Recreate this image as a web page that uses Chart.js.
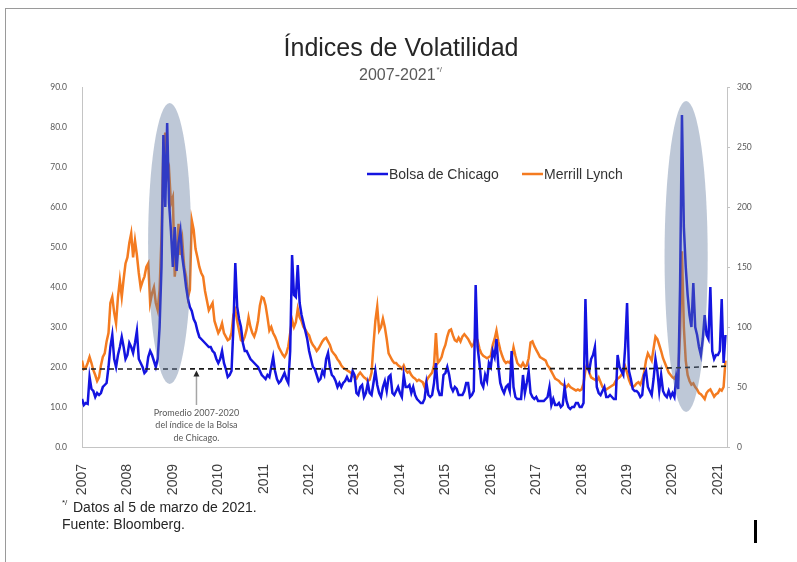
<!DOCTYPE html>
<html lang="es">
<head>
    <meta charset="UTF-8">
    <title>Índices de Volatilidad</title>
    <script src="https://cdn.jsdelivr.net/npm/chart.js"></script>
    <style>
        html, body {
            margin: 0;
            padding: 0;
            background: #fff;
        }
        .frame {
            position: relative;
            width: 797px;
            height: 562px;
            overflow: hidden;
        }
        .frame::before {
            content: "";
            position: absolute;
            left: 5px;
            top: 8px;
            right: -2px;
            bottom: -2px;
            border-top: 1px solid #9a9a9a;
            border-left: 1px solid #9a9a9a;
        }
        canvas {
            position: absolute;
            left: 0;
            top: 0;
        }
    </style>
</head>
<body>
    <div class="frame">
        <canvas id="volChart" width="797" height="562"></canvas>
    </div>

    <script>
        // Two readings per month (1st and 16th), Jan 2007 - Mar 2021
        const startYear = 2007;
        const pointsPerYear = 24;

        // Bolsa de Chicago (VIX), left axis
        const vixChicago = [
            12, 10.5, 11, 10.8, 17.5, 14.5, 14, 12.5, 13.5, 13, 13.5, 15, 15.5, 16, 20, 25, 28, 22, 20, 23, 25, 27.5, 25, 22,
            23, 26, 25, 23.5, 26, 29, 22, 21, 20, 18.5, 19, 22.5, 24, 23, 21.5, 20, 22, 30, 45, 78, 60, 81, 61, 54,
            45, 55, 44, 51, 54, 47.5, 44, 40, 37, 35, 34, 32, 31, 29, 27.5, 27, 26.5, 26, 25.5, 25, 25, 24, 23.5, 22,
            21, 22, 24, 21, 19.5, 17.5, 18, 19, 30, 46, 35, 32, 30, 26, 24, 24, 23, 22, 21.5, 21, 20.5, 20, 19, 18,
            17.5, 17, 18, 17.5, 20, 22.5, 19, 17, 16, 16.5, 17.5, 18.5, 17, 16, 24, 48, 38, 37.5, 45.5, 36, 33, 31, 29, 27,
            24, 22, 20, 19.5, 18, 16.5, 17, 19, 18, 22, 23.5, 20, 18, 17.5, 16.5, 15, 16, 15, 16, 16.5, 17.5, 16.5, 16.5, 19,
            18, 13.5, 13, 15, 15.5, 12.5, 13.5, 16, 13.5, 13, 16, 19, 15.5, 13.5, 12.5, 15, 16.5, 14, 17.5, 18, 13.5, 13, 14, 15,
            13.5, 12.5, 18, 15, 15, 15.5, 13.5, 15, 13, 12, 11.5, 11, 11, 12, 16, 13, 12.5, 13, 16, 21, 14.5, 13, 13, 18,
            18.5, 20, 18, 15, 14, 15, 14.5, 13, 13, 13, 14, 16, 16, 12.5, 13, 14, 40.5, 25, 21, 16, 15, 18, 16.5, 21,
            20, 24, 22.5, 27, 20, 16, 14.5, 13.5, 15, 15.5, 14, 24, 15, 12.5, 12, 12, 12, 18, 13.5, 16, 19, 13.5, 12.5, 12,
            12.5, 11.5, 11.5, 11.5, 11.5, 12, 12.5, 15, 10.5, 12, 10.5, 10.5, 11, 10, 10.5, 15, 11.5, 10, 9.5, 10, 10, 11, 11, 10,
            10, 11, 37, 20, 19, 22, 23, 25, 15, 13.5, 13, 14, 15, 12.5, 12.5, 13, 12.5, 12, 12, 23, 20, 19, 18, 25,
            36, 19, 17, 14.5, 14, 14, 13.5, 12.5, 13, 18, 19, 15, 14, 13, 17, 22, 19, 14, 18, 14, 13, 12.5, 14, 12.5,
            13.5, 12.5, 17.5, 14.5, 40, 83, 55, 45, 38, 33, 30, 41, 30, 28, 25, 23, 27, 33, 28, 27, 40, 24, 22, 23,
            23, 24, 37, 21, 28
        ];

        // Merrill Lynch (MOVE), right axis
        const merrillLynch = [
            72, 65, 66, 70, 75, 70, 64, 60, 55, 58, 68, 75, 78, 88, 95, 120, 125, 112, 103, 125, 139, 125, 140, 153,
            158, 170, 178, 158, 172, 160, 145, 133, 138, 142, 150, 153, 120, 128, 133, 120, 114, 131, 175, 250, 262, 225, 231, 203,
            208, 142, 158, 186, 160, 172, 150, 142, 125, 131, 189, 181, 165, 158, 150, 145, 142, 130, 122, 114, 117, 120, 105, 100,
            95, 98, 103, 95, 92, 89, 90, 95, 110, 114, 105, 97, 89, 88, 92, 98, 108, 100, 95, 92, 97, 105, 118, 125,
            124, 118, 108, 97, 100, 95, 92, 88, 83, 80, 77, 75, 78, 84, 95, 106, 100, 104, 115, 108, 105, 100, 98, 95,
            93, 88, 85, 83, 80, 82, 85, 88, 90, 91, 88, 85, 80, 78, 76, 73, 71, 68, 66, 65, 64, 63, 62, 60,
            58, 57, 60, 62, 60, 58, 57, 55, 56, 62, 85, 105, 117, 97, 100, 107, 100, 90, 78, 75, 72, 70, 70, 68,
            67, 65, 68, 64, 62, 63, 60, 58, 57, 55, 56, 55, 54, 50, 55, 58, 60, 62, 68, 95, 70, 72, 75, 81,
            85, 92, 97, 98, 93, 89, 88, 91, 88, 92, 94, 92, 90, 87, 84, 86, 92, 89, 82, 78, 76, 75, 74, 75,
            76, 85, 90, 97, 88, 81, 76, 72, 70, 71, 70, 74, 83, 76, 70, 68, 67, 70, 67, 68, 74, 87, 88, 84,
            81, 78, 75, 74, 73, 72, 68, 66, 63, 60, 57, 56, 55, 53, 52, 51, 50, 52, 50, 49, 48, 47, 48, 47,
            48, 53, 64, 70, 62, 58, 57, 56, 55, 58, 54, 50, 49, 48, 49, 50, 51, 52, 55, 57, 58, 60, 63, 67,
            62, 56, 52, 50, 51, 53, 54, 52, 56, 62, 72, 78, 75, 72, 82, 92, 90, 85, 80, 74, 70, 66, 62, 60,
            58, 57, 60, 58, 95, 163, 100, 72, 60, 55, 52, 53, 50, 48, 45, 44, 42, 40, 45, 47, 48, 45, 42, 44,
            45, 48, 47, 50, 72
        ];

        // Promedio 2007-2020 del índice de la Bolsa de Chicago
        const averageYears = [2007, 2019.5, 2021.2];
        const averageVix = [19.5, 19.6, 20.2];

        const yearTicks = [2007, 2008, 2009, 2010, 2011, 2012, 2013, 2014, 2015, 2016, 2017, 2018, 2019, 2020, 2021];
        const leftTicks = [0, 10, 20, 30, 40, 50, 60, 70, 80, 90];
        const rightTicks = [0, 50, 100, 150, 200, 250, 300];

        // shaded ellipses (in axis units) around the two crises
        const highlights = [
            { from: 2008.455, to: 2009.405, low: 15.75, high: 86 },
            { from: 2019.825, to: 2020.775, low: 8.75, high: 86.5 }
        ];
        const noteYear = 2009.52;

        const sans = '"Liberation Sans", Arial, sans-serif';
        const soft = 'Lato, "Open Sans", sans-serif';

        function toPoints(values) {
            return values.map((v, i) => ({ x: startYear + i / pointsPerYear, y: v }));
        }

        const overlay = {
            id: "overlay",
            afterDatasetsDraw(chart) {
                const { ctx, scales: { x, y } } = chart;
                ctx.save();
                ctx.fillStyle = "rgba(92, 117, 155, 0.4)";
                highlights.forEach(h => {
                    const x0 = x.getPixelForValue(h.from);
                    const x1 = x.getPixelForValue(h.to);
                    const y0 = y.getPixelForValue(h.high);
                    const y1 = y.getPixelForValue(h.low);
                    ctx.beginPath();
                    ctx.ellipse((x0 + x1) / 2, (y0 + y1) / 2, (x1 - x0) / 2, (y1 - y0) / 2, 0, 0, Math.PI * 2);
                    ctx.fill();
                });
                ctx.restore();
            },
            afterDraw(chart) {
                const { ctx, scales: { x, y } } = chart;
                const ds = chart.data.datasets;
                ctx.save();

                // title + subtitle
                ctx.textBaseline = "middle";
                ctx.textAlign = "center";
                ctx.fillStyle = "#262626";
                ctx.font = "25px " + sans;
                ctx.fillText("Índices de Volatilidad", 401, 49);

                ctx.fillStyle = "#595959";
                ctx.font = "16px " + sans;
                const sub = "2007-2021";
                const wSub = ctx.measureText(sub).width;
                ctx.font = "8px " + sans;
                const wSup = ctx.measureText("*/").width;
                const sx = 400 - (wSub + wSup) / 2;
                ctx.textAlign = "left";
                ctx.font = "16px " + sans;
                ctx.fillText(sub, sx, 76);
                ctx.font = "8px " + sans;
                ctx.fillText("*/", sx + wSub + 1, 70);

                // legend
                const legend = [
                    { ds: ds[0], x: 367 },
                    { ds: ds[1], x: 522 }
                ];
                ctx.font = "14px " + sans;
                legend.forEach(item => {
                    ctx.strokeStyle = item.ds.borderColor;
                    ctx.lineWidth = 2.5;
                    ctx.beginPath();
                    ctx.moveTo(item.x, 174);
                    ctx.lineTo(item.x + 21, 174);
                    ctx.stroke();
                    ctx.fillStyle = "#333";
                    ctx.fillText(item.ds.label, item.x + 22, 175);
                });

                // note with arrow
                const ax = x.getPixelForValue(noteYear);
                const tipY = y.getPixelForValue(19.1);
                const baseY = y.getPixelForValue(10.5);
                ctx.strokeStyle = "#a6a6a6";
                ctx.lineWidth = 1.5;
                ctx.beginPath();
                ctx.moveTo(ax, tipY + 5);
                ctx.lineTo(ax, baseY);
                ctx.stroke();
                ctx.fillStyle = "#262626";
                ctx.beginPath();
                ctx.moveTo(ax, tipY);
                ctx.lineTo(ax - 3, tipY + 6);
                ctx.lineTo(ax + 3, tipY + 6);
                ctx.closePath();
                ctx.fill();

                ctx.fillStyle = "#595959";
                ctx.font = "9px " + soft;
                ctx.textAlign = "center";
                ["Promedio 2007-2020", "del índice de la Bolsa", "de Chicago."].forEach((t, i) => {
                    ctx.fillText(t, ax, baseY + 8 + i * 12.5);
                });

                // footer
                ctx.textAlign = "left";
                ctx.fillStyle = "#262626";
                ctx.font = "8px " + sans;
                ctx.fillText("*/", 62, 503);
                ctx.font = "14px " + sans;
                ctx.fillText("Datos al 5 de marzo de 2021.", 73, 508);
                ctx.fillText("Fuente: Bloomberg.", 62, 525);

                ctx.fillStyle = "#000";
                ctx.fillRect(754, 520, 3, 23);

                ctx.restore();
            }
        };

        const config = {
            type: "line",
            data: {
                datasets: [
                    {
                        label: "Bolsa de Chicago",
                        data: toPoints(vixChicago),
                        yAxisID: "y",
                        borderColor: "#1414e0",
                        borderWidth: 2.5,
                        pointRadius: 0,
                        tension: 0,
                        order: 2
                    },
                    {
                        label: "Merrill Lynch",
                        data: toPoints(merrillLynch),
                        yAxisID: "y2",
                        borderColor: "#f47b20",
                        borderWidth: 2.5,
                        pointRadius: 0,
                        tension: 0,
                        order: 3
                    },
                    {
                        label: "Promedio",
                        data: averageYears.map((yr, i) => ({ x: yr, y: averageVix[i] })),
                        yAxisID: "y",
                        borderColor: "#1a1a1a",
                        borderWidth: 1.6,
                        borderDash: [5, 4],
                        pointRadius: 0,
                        tension: 0,
                        order: 1
                    }
                ]
            },
            options: {
                responsive: false,
                animation: false,
                layout: {
                    padding: { top: 87, bottom: 65, left: 0, right: 0 }
                },
                plugins: {
                    legend: { display: false },
                    tooltip: { enabled: false }
                },
                scales: {
                    x: {
                        type: "linear",
                        min: 2007,
                        max: 2021.2,
                        afterBuildTicks: scale => {
                            scale.ticks = yearTicks.map(v => ({ value: v }));
                        },
                        afterFit: scale => { scale.height = 50; },
                        grid: { display: false },
                        border: { display: true, color: "#c4c4c4" },
                        ticks: {
                            autoSkip: false,
                            minRotation: 90,
                            maxRotation: 90,
                            padding: 9,
                            color: "#404040",
                            font: { family: sans, size: 14 },
                            callback: v => String(v)
                        }
                    },
                    y: {
                        position: "left",
                        min: 0,
                        max: 90,
                        afterBuildTicks: scale => {
                            scale.ticks = leftTicks.map(v => ({ value: v }));
                        },
                        afterFit: scale => { scale.width = 82; },
                        grid: { display: false },
                        border: { display: true, color: "#c4c4c4" },
                        ticks: {
                            padding: 7,
                            color: "#595959",
                            font: { family: soft, size: 8.5 },
                            callback: v => v.toFixed(1)
                        }
                    },
                    y2: {
                        position: "right",
                        min: 0,
                        max: 300,
                        afterBuildTicks: scale => {
                            scale.ticks = rightTicks.map(v => ({ value: v }));
                        },
                        afterFit: scale => { scale.width = 70; },
                        grid: { drawOnChartArea: false, tickLength: 3, color: "#c4c4c4" },
                        border: { display: true, color: "#c4c4c4" },
                        ticks: {
                            padding: 7,
                            color: "#595959",
                            font: { family: soft, size: 8.5 },
                            callback: v => String(v)
                        }
                    }
                }
            },
            plugins: [overlay]
        };

        new Chart(document.getElementById("volChart"), config);
    </script>
</body>
</html>
